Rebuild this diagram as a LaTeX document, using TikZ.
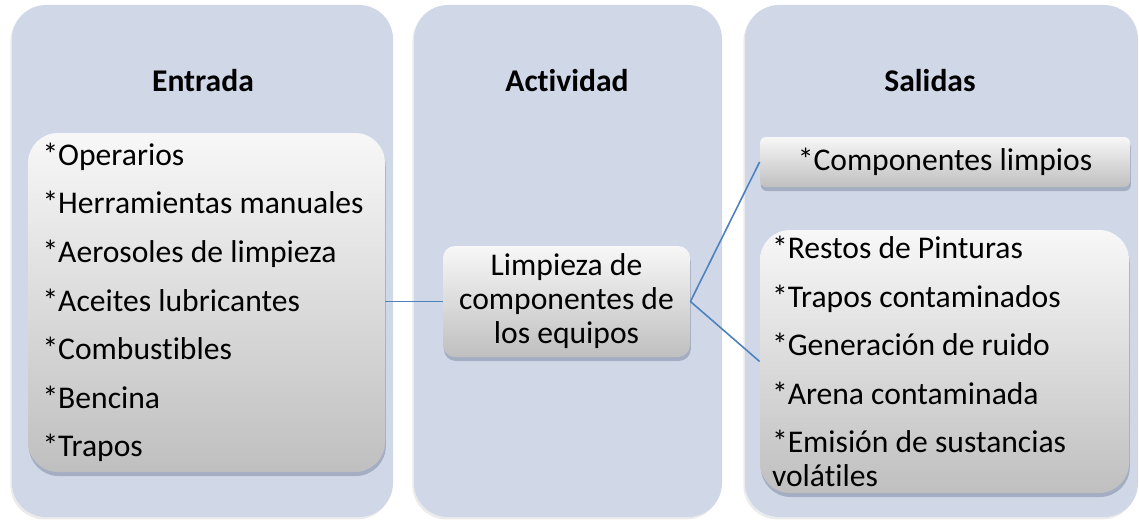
\documentclass[tikz,border=0pt]{standalone}
\usepackage{fontspec}
\setmainfont{Carlito}[Ligatures=NoCommon]
\usetikzlibrary{positioning,shadows}

\definecolor{panelazul}{HTML}{D0D8E8}
\definecolor{lineaazul}{HTML}{4F81BD}
\definecolor{sombra}{HTML}{9AA4BA}

\begin{document}
\begin{tikzpicture}[
    x=0.5pt, y=-0.5pt,
    panel/.style={
        fill=panelazul,
        rounded corners=17pt,
        inner sep=0pt,
        minimum height=256pt,
        drop shadow={shadow xshift=-0.8pt, shadow yshift=-1.2pt, opacity=0.2, fill=black!40}
    },
    caja/.style={
        top color=black!3,
        bottom color=black!25,
        inner sep=0pt,
        font=\fontsize{15.8}{17}\selectfont,
        drop shadow={shadow xshift=0.4pt, shadow yshift=-2pt, opacity=0.8, fill=sombra}
    },
    titulo/.style={font=\fontsize{15.8}{17}\selectfont\bfseries},
    enlace/.style={draw=lineaazul, line width=0.8pt}
]
    \useasboundingbox (0,0) rectangle (1139,519);

    % Columnas de fondo
    \node[panel, minimum width=190.5pt] (colE) at (202.5,261) {};
    \node[panel, minimum width=154pt]   (colA) at (568,261) {};
    \node[panel, minimum width=196.5pt] (colS) at (941.5,261) {};

    % Titulos de cada columna
    \node[titulo] (tEntrada)   at (203,81) {Entrada};
    \node[titulo] (tActividad) at (567,81) {Actividad};
    \node[titulo] (tSalidas)   at (930,81) {Salidas};

    % Entradas del proceso
    \node[caja, rounded corners=15pt, minimum width=178.5pt, minimum height=169.5pt,
          text width=164pt, align=flush left] (entrada) at (206.5,302.5)
        {*Operarios\\[7.3pt]*Herramientas manuales\\[7.3pt]*Aerosoles de limpieza\\[7.3pt]*Aceites lubricantes\\[7.3pt]*Combustibles\\[7.3pt]*Bencina\\[7.3pt]*Trapos};

    % Actividad central
    \node[caja, rounded corners=6pt, minimum width=123.5pt, minimum height=55.5pt,
          align=center] (act) at (566.5,301.5)
        {Limpieza de\\componentes de\\los equipos};

    % Salidas del proceso
    \node[caja, rounded corners=3pt, minimum width=185pt, minimum height=25pt] (limpios) at (945,162)
        {*Componentes limpios};
    \node[caja, rounded corners=15pt, minimum width=184.5pt, minimum height=131.5pt,
          text width=172.5pt, align=flush left] (residuos) at (944.5,361.5)
        {*Restos de Pinturas\\[7.3pt]*Trapos contaminados\\[7.3pt]*Generación de ruido\\[7.3pt]*Arena contaminada\\[7.3pt]*Emisión de sustancias\\volátiles};

    % Conectores
    \draw[enlace] (act.west) -- (act.west -| entrada.east);
    \draw[enlace] (act.east) -- (limpios.west);
    \draw[enlace] (act.east) -- (residuos.west);
\end{tikzpicture}
\end{document}
